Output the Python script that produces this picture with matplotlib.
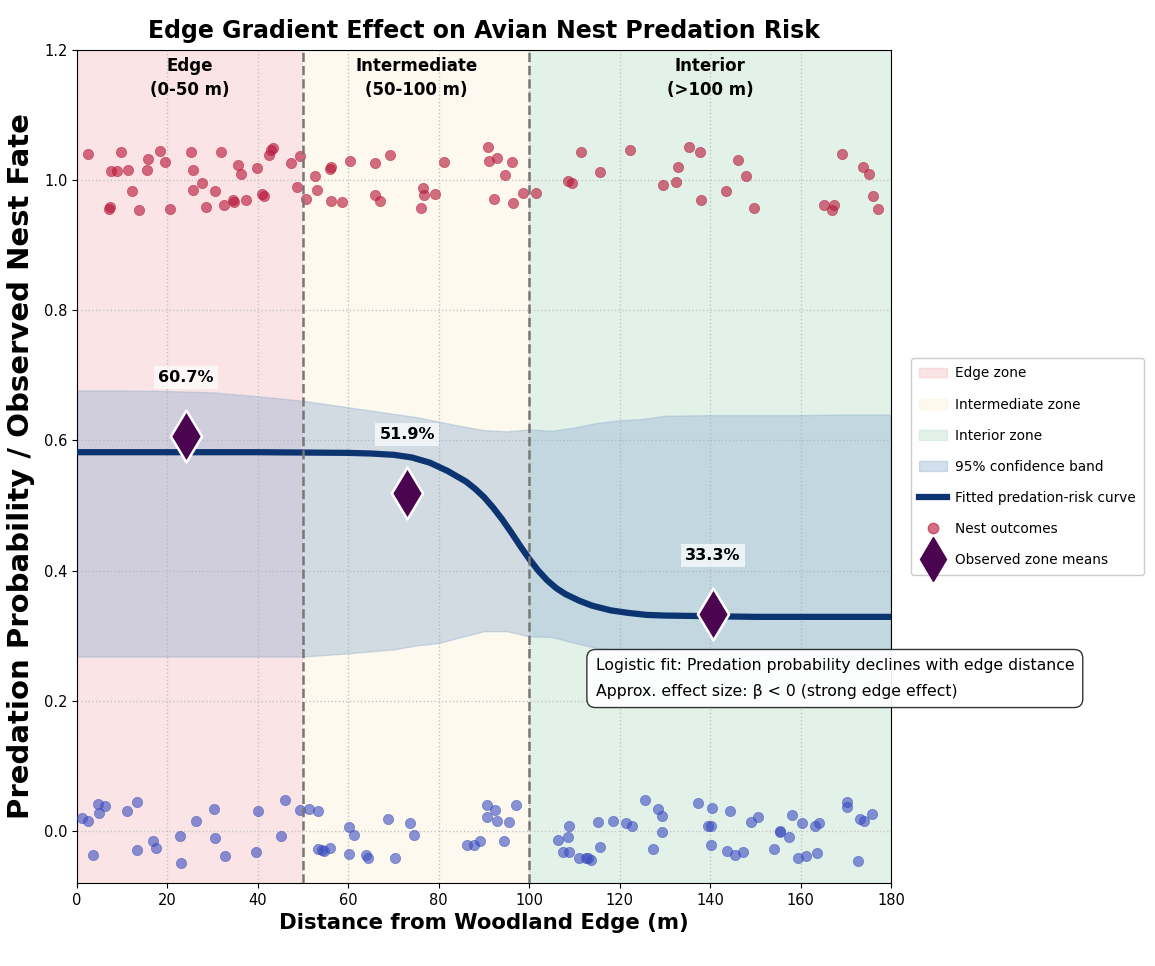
import numpy as np
import matplotlib
matplotlib.use("Agg")
import matplotlib.pyplot as plt
from matplotlib.patches import Patch
from matplotlib.lines import Line2D

# zones along the distance axis (m)
zone_names = ["Edge", "Intermediate", "Interior"]
zone_ranges = ["(0-50 m)", "(50-100 m)", "(>100 m)"]
zone_start = [0, 50, 100]
zone_end = [50, 100, 180]
zone_colors = ["#f1a7a9", "#faecc8", "#a5d4b9"]
zone_legend = ["Edge zone", "Intermediate zone", "Interior zone"]

# fitted predation-risk curve
curve_x = [0, 40, 60, 65, 70, 74, 78, 82, 86, 88, 90, 92, 94, 96, 98, 100,
           102, 104, 106, 108, 111, 114, 118, 122, 126, 130, 140, 150, 165, 180]
curve_y = [0.582, 0.582, 0.581, 0.580, 0.578, 0.574, 0.566, 0.553, 0.537, 0.526,
           0.513, 0.497, 0.479, 0.459, 0.438, 0.418, 0.400, 0.385, 0.373, 0.364,
           0.354, 0.346, 0.339, 0.335, 0.332, 0.331, 0.330, 0.329, 0.329, 0.329]

# 95% confidence band
band_x = [0, 10, 20, 30, 40, 50, 60, 70, 75, 80, 85, 90, 95, 100, 105, 110,
          115, 120, 125, 130, 140, 150, 160, 170, 180]
band_hi = [0.677, 0.677, 0.676, 0.674, 0.668, 0.661, 0.651, 0.641, 0.636, 0.629,
           0.622, 0.616, 0.614, 0.617, 0.615, 0.620, 0.627, 0.631, 0.633, 0.638,
           0.639, 0.639, 0.639, 0.640, 0.640]
band_lo = [0.268, 0.268, 0.268, 0.268, 0.268, 0.268, 0.273, 0.279, 0.285, 0.289,
           0.298, 0.307, 0.307, 0.299, 0.298, 0.289, 0.281, 0.277, 0.275, 0.273,
           0.272, 0.271, 0.271, 0.270, 0.270]

# predated nests (jittered around 1)
pred_x = [2.5, 7.0, 7.2, 9.7, 7.5, 8.8, 11.2, 12.2, 13.6, 15.6, 15.4, 18.3, 19.5,
          20.6, 25.1, 25.6, 25.6, 27.6, 28.5, 30.4, 31.8, 32.5, 34.6, 34.8, 35.5,
          36.2, 37.3, 39.8, 40.8, 41.3, 42.5, 43.0, 43.4, 47.3, 49.2, 48.7,
          50.7, 52.7, 53.1, 56.0, 56.2, 56.2, 58.5, 60.4, 65.9, 65.9, 67.1, 69.3,
          76.4, 76.8, 76.1, 79.2, 81.2, 90.9, 91.0, 92.8, 96.3, 94.6, 92.2, 96.4,
          98.7,
          101.5, 108.6, 109.5, 111.5, 115.6, 122.3, 129.5, 132.5, 132.9, 135.4,
          137.8, 137.9, 143.5, 146.2, 148.0, 149.6, 165.1, 166.9, 167.5, 169.1,
          173.9, 175.1, 176.0, 177.1]
pred_y = [1.040, 0.955, 0.959, 1.043, 1.014, 1.014, 1.016, 0.983, 0.954, 1.033,
          1.015, 1.045, 1.028, 0.955, 1.043, 1.016, 0.985, 0.995, 0.959, 0.983,
          1.043, 0.962, 0.970, 0.966, 1.024, 1.010, 0.969, 1.019, 0.979, 0.975,
          1.038, 1.046, 1.050, 1.026, 1.037, 0.990,
          0.971, 1.007, 0.985, 1.017, 1.021, 0.968, 0.966, 1.029, 1.026, 0.977,
          0.968, 1.039, 0.988, 0.977, 0.957, 0.979, 1.028, 1.051, 1.029, 1.034,
          1.028, 1.008, 0.971, 0.965, 0.980,
          0.981, 0.998, 0.996, 1.043, 1.012, 1.046, 0.992, 0.997, 1.020, 1.051,
          1.043, 0.969, 0.983, 1.031, 1.007, 0.957, 0.962, 0.954, 0.962, 1.041,
          1.020, 1.009, 0.976, 0.955]

# surviving nests (jittered around 0)
surv_x = [1.2, 2.5, 4.6, 4.9, 6.1, 3.6, 11.1, 13.2, 13.2, 16.8, 17.5, 22.7, 23.0,
          26.3, 30.2, 30.5, 32.8, 39.5, 40.0, 45.0, 46.1, 49.4,
          51.2, 53.3, 53.3, 54.2, 54.6, 55.9, 60.1, 61.3, 60.2, 63.8, 64.4, 68.8,
          70.3, 73.6, 74.6, 86.2, 87.8, 89.2, 90.7, 90.6, 92.4, 92.8, 95.5, 94.5,
          97.0,
          106.3, 107.5, 108.8, 108.9, 108.6, 111.1, 112.6, 113.0, 113.7, 115.2,
          115.7, 118.5, 121.4, 122.7, 125.7, 127.4, 128.4, 129.3, 129.4, 137.3,
          140.4, 139.5, 140.1, 140.1, 144.5, 143.8, 145.4, 147.3, 149.0, 150.5,
          154.2, 155.4, 155.4, 157.5, 158.2, 160.3, 159.5, 161.2, 163.2, 164.1,
          163.6, 170.2, 170.2, 172.7, 173.1, 174.1, 175.7]
surv_y = [0.020, 0.016, 0.042, 0.028, 0.039, -0.037, 0.031, 0.045, -0.030, -0.015,
          -0.026, -0.007, -0.049, 0.016, 0.033, -0.011, -0.038, -0.032, 0.031,
          -0.008, 0.047, 0.032,
          0.034, 0.031, -0.027, -0.029, -0.031, -0.026, 0.006, -0.006, -0.036,
          -0.037, -0.041, 0.019, -0.041, 0.012, -0.006, -0.021, -0.021, -0.015,
          0.040, 0.022, 0.032, 0.016, 0.013, -0.015, 0.040,
          -0.014, -0.033, -0.033, 0.008, -0.010, -0.041, -0.041, -0.042, -0.044,
          0.014, -0.025, 0.016, 0.012, 0.008, 0.048, -0.028, 0.033, 0.023, -0.002,
          0.043, 0.035, 0.007, 0.007, -0.022, 0.031, -0.031, -0.037, -0.033,
          0.014, 0.022, -0.027, 0.000, -0.002, -0.009, 0.025, 0.012, -0.041,
          -0.038, 0.007, 0.012, -0.034, 0.045, 0.037, -0.046, 0.018, 0.016, 0.026]

# observed predation rate per zone
mean_x = [24.1, 73.0, 140.6]
mean_y = [0.607, 0.519, 0.333]

RED = "#b8183a"
BLUE = "#3b4cc0"
BAND = "#92afd0"
CURVE = "#0b3470"
MEAN = "#4b0550"

fig = plt.figure(figsize=(11.55, 9.66), dpi=100)
ax = fig.add_axes([0.0667, 0.0859, 0.7047, 0.8623])

for s, e, c in zip(zone_start, zone_end, zone_colors):
    ax.axvspan(s, e, color=c, alpha=0.3, lw=0)

ax.fill_between(band_x, band_lo, band_hi, color=BAND, alpha=0.4, lw=1, zorder=2)
ax.plot(curve_x, curve_y, color=CURVE, lw=4.5, zorder=4)

ax.scatter(pred_x, pred_y, s=55, color=RED, alpha=0.62,
           edgecolors=RED, linewidths=0.5, zorder=3)
ax.scatter(surv_x, surv_y, s=55, color=BLUE, alpha=0.6,
           edgecolors=BLUE, linewidths=0.5, zorder=3)

ax.scatter(mean_x, mean_y, s=700, marker="d", color=MEAN,
           edgecolors="white", linewidths=1.8, zorder=6)
for mx, my in zip(mean_x, mean_y):
    ax.text(mx, my + 0.09, f"{my * 100:.1f}%", ha="center", va="center",
            fontsize=11.5, fontweight="bold", zorder=7,
            bbox=dict(boxstyle="square,pad=0.25", fc="white", ec="none", alpha=0.7))

for b in zone_end[:-1]:
    ax.axvline(b, color="#777777", ls="--", lw=1.8, zorder=5)

for s, e, n, r in zip(zone_start, zone_end, zone_names, zone_ranges):
    ax.text((s + e) / 2, 1.157, f"{n}\n{r}", ha="center", va="center",
            fontsize=12, fontweight="bold", linespacing=1.45, zorder=7)

ax.text(0.637, 0.270,
        "Logistic fit: Predation probability declines with edge distance\n"
        "Approx. effect size: \u03b2 < 0 (strong edge effect)",
        transform=ax.transAxes, ha="left", va="top", fontsize=11.3,
        linespacing=1.9, zorder=8,
        bbox=dict(boxstyle="round,pad=0.55", fc="white", ec="#222222", lw=1, alpha=0.92))

ax.set_xlim(0, 180)
ax.set_ylim(-0.08, 1.2)
ax.set_xticks(np.arange(0, 181, 20))
ax.set_yticks(np.arange(0, 1.21, 0.2))
ax.tick_params(labelsize=10.5)
ax.grid(True, ls=":", color="#c4c4c4", lw=1)

ax.set_title("Edge Gradient Effect on Avian Nest Predation Risk",
             fontsize=17, fontweight="bold", pad=9)
ax.set_xlabel("Distance from Woodland Edge (m)", fontsize=15.3, fontweight="bold")
ax.set_ylabel("Predation Probability / Observed Nest Fate", fontsize=21,
              fontweight="bold", labelpad=6)

handles = [Patch(facecolor=c, alpha=0.3, edgecolor=c) for c in zone_colors]
handles.append(Patch(facecolor=BAND, alpha=0.4, edgecolor=BAND))
handles.append(Line2D([], [], color=CURVE, lw=4.5))
handles.append(Line2D([], [], ls="none", marker="o", markersize=7.5, color=RED, alpha=0.62))
handles.append(Line2D([], [], ls="none", marker="d", markersize=22, color=MEAN))
labels = zone_legend + ["95% confidence band", "Fitted predation-risk curve",
                        "Nest outcomes", "Observed zone means"]
ax.legend(handles, labels, loc="center left", bbox_to_anchor=(1.02, 0.5),
          fontsize=9.8, labelspacing=1.25, handlelength=2.0, handletextpad=0.6,
          borderpad=0.6, borderaxespad=0.3, framealpha=1)

fig.savefig("out.png", dpi=100)
